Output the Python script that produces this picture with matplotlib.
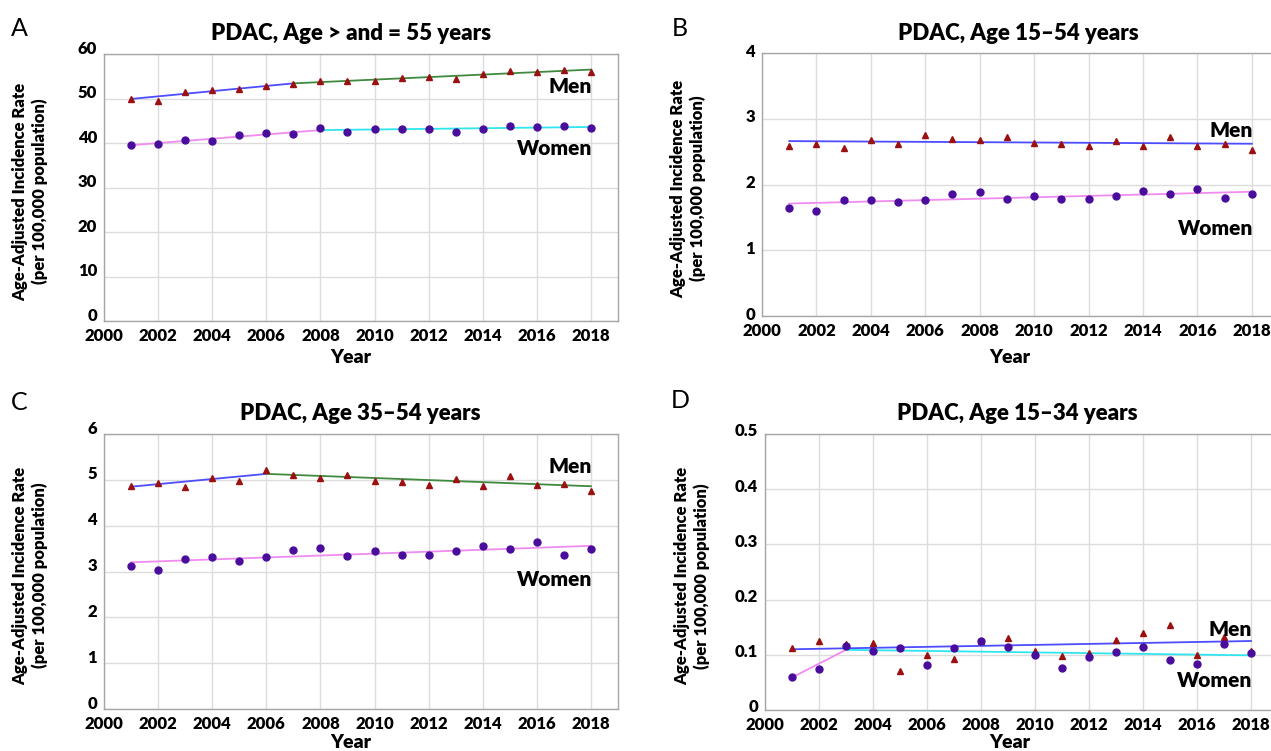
import matplotlib
matplotlib.use("Agg")
import matplotlib.pyplot as plt
import matplotlib.transforms as mtransforms

plt.rcParams["font.family"] = ["Lato", "DejaVu Sans"]

# --- data -------------------------------------------------------------
years = list(range(2001, 2019))

a_men = [50.0, 49.5, 51.4, 51.8, 52.1, 52.8, 53.2, 54.0, 54.0, 53.9, 54.6, 54.8, 54.4, 55.4, 56.1, 55.9, 56.5, 55.9]
a_women = [39.6, 39.8, 40.6, 40.5, 41.7, 42.3, 42.0, 43.3, 42.5, 43.1, 43.2, 43.2, 42.5, 43.1, 43.8, 43.7, 43.9, 43.3]
a_men_fit_years = [2001, 2007, 2018]
a_men_fit = [49.9, 53.4, 56.5]
a_women_fit_years = [2001, 2008, 2018]
a_women_fit = [39.5, 42.9, 43.6]

b_men = [2.58, 2.62, 2.56, 2.68, 2.61, 2.75, 2.69, 2.68, 2.72, 2.63, 2.61, 2.58, 2.66, 2.59, 2.72, 2.58, 2.61, 2.52]
b_women = [1.64, 1.60, 1.76, 1.77, 1.74, 1.76, 1.86, 1.88, 1.78, 1.83, 1.78, 1.78, 1.83, 1.90, 1.85, 1.93, 1.79, 1.86]
b_men_fit_years = [2001, 2018]
b_men_fit = [2.66, 2.62]
b_women_fit_years = [2001, 2018]
b_women_fit = [1.71, 1.89]

c_men = [4.87, 4.94, 4.84, 5.05, 4.97, 5.21, 5.10, 5.05, 5.11, 4.98, 4.96, 4.89, 5.02, 4.87, 5.08, 4.89, 4.92, 4.75]
c_women = [3.12, 3.03, 3.28, 3.31, 3.24, 3.32, 3.48, 3.51, 3.34, 3.44, 3.36, 3.36, 3.44, 3.56, 3.49, 3.64, 3.35, 3.49]
c_men_fit_years = [2001, 2006, 2018]
c_men_fit = [4.85, 5.13, 4.86]
c_women_fit_years = [2001, 2018]
c_women_fit = [3.20, 3.56]

d_men = [0.113, 0.125, 0.120, 0.122, 0.071, 0.099, 0.093, 0.125, 0.131, 0.106, 0.098, 0.104, 0.126, 0.139, 0.154, 0.100, 0.132, 0.107]
d_women = [0.059, 0.074, 0.116, 0.106, 0.112, 0.081, 0.112, 0.125, 0.114, 0.100, 0.076, 0.096, 0.105, 0.114, 0.090, 0.083, 0.119, 0.104]
d_men_fit_years = [2001, 2018]
d_men_fit = [0.110, 0.125]
d_women_fit_years = [2001, 2003, 2018]
d_women_fit = [0.059, 0.109, 0.099]

titles = ["PDAC, Age > and = 55 years", "PDAC, Age 15\u201354 years",
          "PDAC, Age 35\u201354 years", "PDAC, Age 15\u201334 years"]
letters = ["A", "B", "C", "D"]
x_ticks = list(range(2000, 2019, 2))
y_ticks = [
    [0, 10, 20, 30, 40, 50, 60],
    [0, 1, 2, 3, 4],
    [0, 1, 2, 3, 4, 5, 6],
    [0, 0.1, 0.2, 0.3, 0.4, 0.5],
]
y_tick_labels = [
    ["0", "10", "20", "30", "40", "50", "60"],
    ["0", "1", "2", "3", "4"],
    ["0", "1", "2", "3", "4", "5", "6"],
    ["0", "0.1", "0.2", "0.3", "0.4", "0.5"],
]

# --- style ------------------------------------------------------------
STYLE = {
    "men": "#9b1010",
    "women": "#4a0c9c",
    "men_fit": ["#4d4dff", "#3f8a3f"],
    "women_fit": ["#f08cf0", "#30e6ee"],
    "grid": "#dcdcdc",
    "spine": "#a6a6a6",
}
BOLD = "heavy"

W, H = 1271, 751
fig = plt.figure(figsize=(W / 100, H / 100), dpi=100)


def fx(x):
    return x / W


def fy(y):
    return 1 - y / H


# pixel layout of the four panels (B and D run just past the right edge)
panels = [
    dict(box=(104, 54, 618, 321), ylim=(0, 60),
         men=a_men, women=a_women,
         mfy=a_men_fit_years, mf=a_men_fit, wfy=a_women_fit_years, wf=a_women_fit,
         men_lab=52.7, women_lab=38.8, ylab_x=30, title=(351, 33),
         letter=(19, 28), year=(351, 357), tick_shift=5),
    dict(box=(762, 53, 1279, 316), ylim=(0, 4),
         men=b_men, women=b_women,
         mfy=b_men_fit_years, mf=b_men_fit, wfy=b_women_fit_years, wf=b_women_fit,
         men_lab=2.82, women_lab=1.33, ylab_x=688, title=(1018, 33),
         letter=(680, 28), year=(1010, 357), tick_shift=2),
    dict(box=(104, 434, 618, 709), ylim=(0, 6),
         men=c_men, women=c_women,
         mfy=c_men_fit_years, mf=c_men_fit, wfy=c_women_fit_years, wf=c_women_fit,
         men_lab=5.29, women_lab=2.82, ylab_x=30, title=(360, 413),
         letter=(19, 402), year=(351, 743), tick_shift=5),
    dict(box=(765, 434, 1278, 710), ylim=(0, 0.5),
         men=d_men, women=d_women,
         mfy=d_men_fit_years, mf=d_men_fit, wfy=d_women_fit_years, wf=d_women_fit,
         men_lab=0.145, women_lab=0.053, ylab_x=692, title=(1017, 413),
         letter=(680, 401), year=(1010, 743), tick_shift=3),
]

for i, p in enumerate(panels):
    l, t, r, b = p["box"]
    ax = fig.add_axes([fx(l), fy(b), (r - l) / W, (b - t) / H])
    ax.set_xlim(2000, 2019)
    ax.set_ylim(*p["ylim"])
    ax.set_xticks(x_ticks)
    ax.set_xticklabels([str(x) for x in x_ticks], fontsize=12, fontweight=BOLD)
    ax.set_yticks(y_ticks[i])
    ax.set_yticklabels(y_tick_labels[i], fontsize=12, fontweight=BOLD)
    ax.tick_params(length=0, pad=5)
    ax.grid(color=STYLE["grid"], lw=1)
    ax.set_axisbelow(True)
    for s in ax.spines.values():
        s.set_color(STYLE["spine"])
        s.set_linewidth(1)

    off = mtransforms.ScaledTranslation(0, p["tick_shift"] / 72, fig.dpi_scale_trans)
    for lab in ax.get_yticklabels():
        lab.set_transform(lab.get_transform() + off)

    # joinpoint trend segments
    for k in range(len(p["mfy"]) - 1):
        ax.plot(p["mfy"][k:k + 2], p["mf"][k:k + 2], color=STYLE["men_fit"][k], lw=1.3, zorder=2)
    for k in range(len(p["wfy"]) - 1):
        ax.plot(p["wfy"][k:k + 2], p["wf"][k:k + 2], color=STYLE["women_fit"][k], lw=1.3, zorder=2)

    ax.plot(years, p["men"], ls="none", marker="^", ms=5, color=STYLE["men"], zorder=3)
    ax.plot(years, p["women"], ls="none", marker="o", ms=5, color=STYLE["women"], zorder=3)

    ax.text(2018.05, p["men_lab"], "Men", ha="right", va="center",
            fontsize=15, fontweight=BOLD, zorder=4)
    ax.text(2018.05, p["women_lab"], "Women", ha="right", va="center",
            fontsize=15, fontweight=BOLD, zorder=4)

    fig.text(fx(p["title"][0]), fy(p["title"][1]), titles[i], ha="center", va="center",
             fontsize=16, fontweight=BOLD)
    fig.text(fx(p["letter"][0]), fy(p["letter"][1]), letters[i], ha="center", va="center",
             fontsize=18, fontweight="normal")
    fig.text(fx(p["ylab_x"]), fy((t + b) / 2 + 4),
             "Age-Adjusted Incidence Rate\n(per 100,000 population)",
             ha="center", va="center", rotation=90, fontsize=12, fontweight=BOLD,
             linespacing=1.2)
    fig.text(fx(p["year"][0]), fy(p["year"][1]), "Year", ha="center", va="center",
             fontsize=14, fontweight=BOLD)

fig.savefig("out.png", dpi=100)
